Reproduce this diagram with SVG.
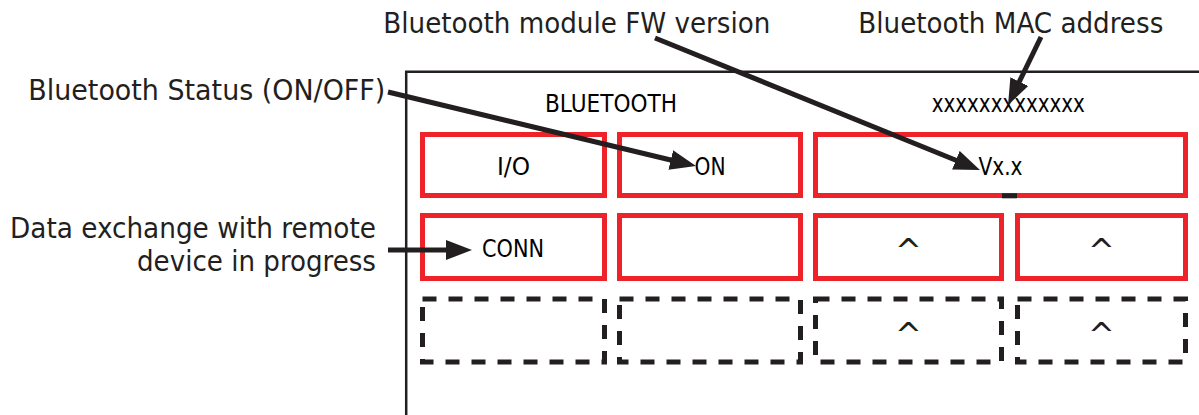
<svg xmlns="http://www.w3.org/2000/svg" width="1199" height="415" viewBox="0 0 1199 415">
<style>
.lbl{font-family:"DejaVu Sans","Liberation Sans",sans-serif;font-stretch:condensed;font-size:29px;fill:#231f20}
.txt{font-family:"DejaVu Sans","Liberation Sans",sans-serif;font-stretch:condensed;font-size:24px;fill:#000}
.car{font-family:"DejaVu Sans","Liberation Sans",sans-serif;font-size:32px;fill:#231f20}
.red{fill:none;stroke:#ee2329;stroke-width:5}
.dash{fill:none;stroke:#231f20;stroke-width:5;stroke-dasharray:14 12}
.frame{fill:none;stroke:#231f20;stroke-width:2.5}
.arr{fill:none;stroke:#231f20;stroke-width:5;marker-end:url(#ah)}
</style>
<defs>
<marker id="ah" markerUnits="userSpaceOnUse" markerWidth="26" markerHeight="20" viewBox="0 0 26 20" refX="16" refY="10" orient="auto">
<path d="M0,0 L26,10 L0,20 z" fill="#231f20"/>
</marker>
</defs>
<rect width="1199" height="415" fill="#fff"/>
<g id="frame">
<path class="frame" d="M406.2,415 V71.7 H1199"/>
<text class="txt" x="611" y="111.7" text-anchor="middle" textLength="132" lengthAdjust="spacingAndGlyphs">BLUETOOTH</text>
<text class="txt" x="1008.3" y="111.7" text-anchor="middle" textLength="153" lengthAdjust="spacingAndGlyphs">xxxxxxxxxxxxx</text>
</g>
<g id="io"><rect class="red" x="422.5" y="134.5" width="182" height="61"/><text class="txt" x="513.5" y="175" text-anchor="middle" textLength="33" lengthAdjust="spacingAndGlyphs">I/O</text></g>
<g id="on"><rect class="red" x="619.5" y="134.5" width="181" height="61"/><text class="txt" x="710" y="175" text-anchor="middle" textLength="31" lengthAdjust="spacingAndGlyphs">ON</text></g>
<g id="version"><rect class="red" x="815.5" y="134.5" width="370" height="61"/><rect x="1002" y="193.3" width="15" height="5" fill="#231f20"/><text class="txt" x="1000.5" y="174.5" text-anchor="middle" textLength="44" lengthAdjust="spacingAndGlyphs">Vx.x</text></g>
<g id="conn"><rect class="red" x="422.5" y="215.5" width="182" height="63"/><text class="txt" x="513" y="256.7" text-anchor="middle" textLength="62" lengthAdjust="spacingAndGlyphs">CONN</text></g>
<g id="r2c2"><rect class="red" x="619.5" y="215.5" width="181" height="63"/></g>
<g id="r2c3"><rect class="red" x="815.5" y="215.5" width="186" height="63"/><text class="car" x="908.5" y="262" text-anchor="middle">^</text></g>
<g id="r2c4"><rect class="red" x="1017.5" y="215.5" width="168" height="63"/><text class="car" x="1101.5" y="262" text-anchor="middle">^</text></g>
<g id="r3c1"><rect class="dash" x="422.5" y="299" width="182" height="63"/></g>
<g id="r3c2"><rect class="dash" x="619.5" y="299" width="181" height="63"/></g>
<g id="r3c3"><rect class="dash" x="815.5" y="299" width="186" height="63"/><text class="car" x="908.5" y="346" text-anchor="middle">^</text></g>
<g id="r3c4"><rect class="dash" x="1017.5" y="299" width="168" height="63"/><text class="car" x="1101.5" y="346" text-anchor="middle">^</text></g>
<g id="label-fw"><text class="lbl" x="383.3" y="33.3" textLength="387" lengthAdjust="spacingAndGlyphs">Bluetooth module FW version</text></g>
<g id="label-mac"><text class="lbl" x="858.3" y="33.3" textLength="305" lengthAdjust="spacingAndGlyphs">Bluetooth MAC address</text></g>
<g id="label-status"><text class="lbl" x="28.3" y="100" textLength="357" lengthAdjust="spacingAndGlyphs">Bluetooth Status (ON/OFF)</text></g>
<g id="label-data">
<text class="lbl" x="10" y="238.3" textLength="366" lengthAdjust="spacingAndGlyphs">Data exchange with remote</text>
<text class="lbl" x="137" y="271" textLength="239" lengthAdjust="spacingAndGlyphs">device in progress</text>
</g>
<g id="connectors">
<path class="arr" d="M388,92 L686.3,163.7"/>
<path class="arr" d="M655,38 L970.7,166.2"/>
<path class="arr" d="M1041,37 L1012.4,96"/>
<path class="arr" d="M388,250 L462,250"/>
</g>
</svg>
